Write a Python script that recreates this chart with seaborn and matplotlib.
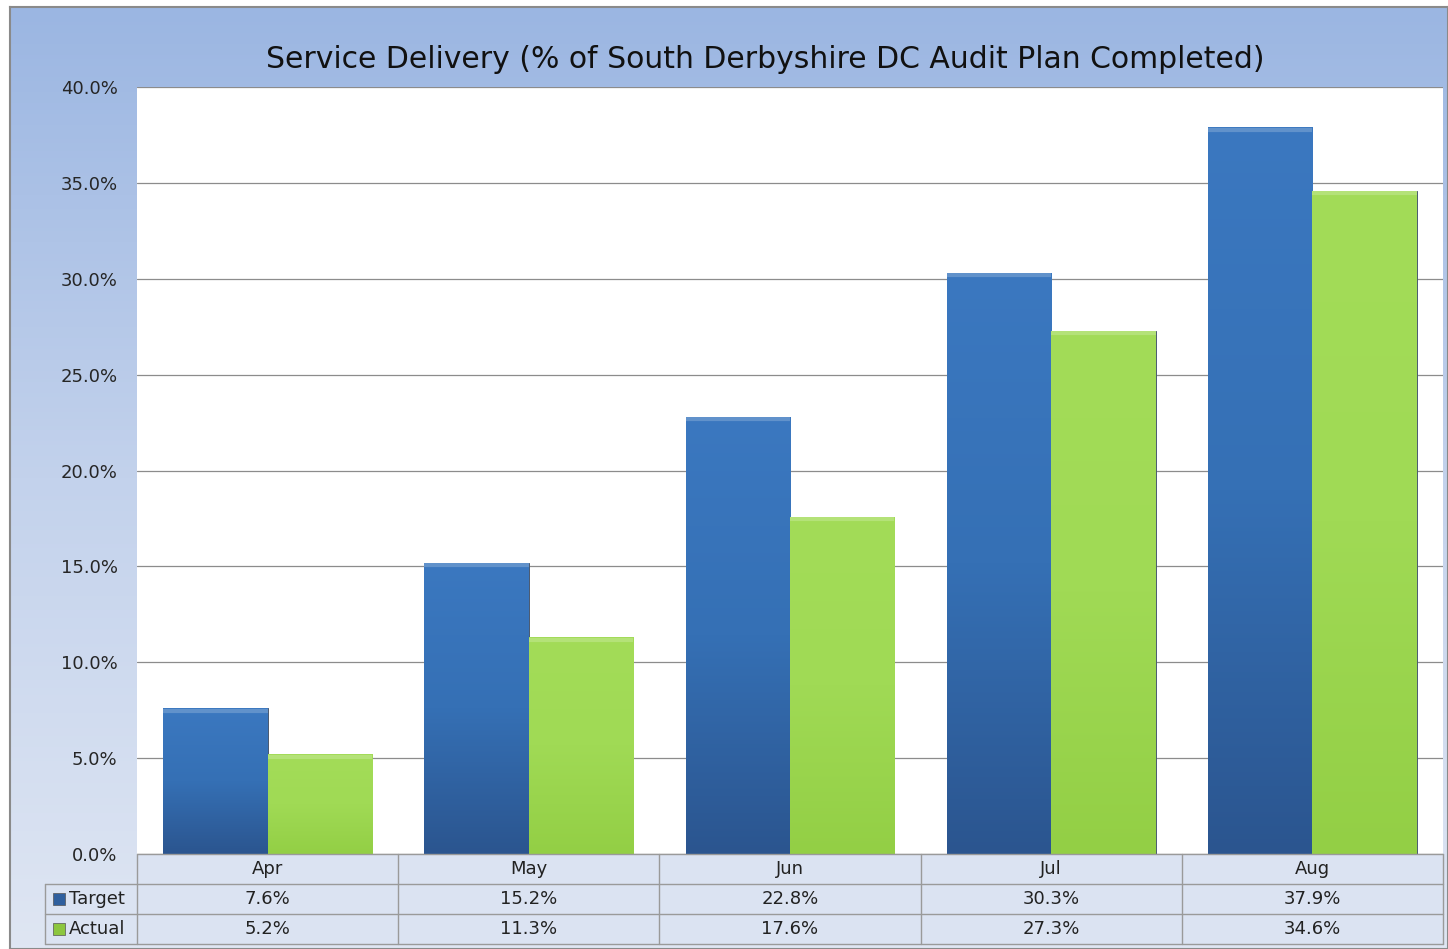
import numpy as np
import pandas as pd
import matplotlib
matplotlib.use('Agg')
import matplotlib.pyplot as plt
import matplotlib.colors as mcolors
import seaborn as sns

# data
months = ['Apr', 'May', 'Jun', 'Jul', 'Aug']
target = [7.6, 15.2, 22.8, 30.3, 37.9]
actual = [5.2, 11.3, 17.6, 27.3, 34.6]
series = ['Target', 'Actual']
yticks = [0, 5, 10, 15, 20, 25, 30, 35, 40]

df = pd.DataFrame({
    'Month': months * 2,
    'Series': ['Target'] * len(months) + ['Actual'] * len(months),
    'Value': target + actual,
})

sns.set_theme(style='white')
plt.rcParams['font.family'] = ['DejaVu Sans']

W, H = 1448, 949
fig = plt.figure(figsize=(W / 100, H / 100), dpi=100)
fig.patch.set_facecolor('white')

# chart area background (gradient)
bg = fig.add_axes([10 / W, 0, 1 - 10 / W, 1 - 7 / H])
grad = np.linspace(0, 1, 256).reshape(-1, 1)
bg_cmap = mcolors.LinearSegmentedColormap.from_list('bg', ['#9bb6e2', '#c3d2ec', '#dfe6f3'])
bg.imshow(grad, cmap=bg_cmap, aspect='auto', extent=[0, 1, 0, 1], origin='upper')
bg.set_xticks([])
bg.set_yticks([])
for s in bg.spines.values():
    s.set_color('#8a8a8a')
    s.set_linewidth(1.5)

# plot area
ax = fig.add_axes([137 / W, 1 - 854 / H, (1443 - 137) / W, (854 - 87) / H])
ax.set_facecolor('white')
pal = {'Target': '#3a73b9', 'Actual': '#9bd652'}
sns.barplot(data=df, x='Month', y='Value', hue='Series', palette=pal,
            width=0.8, legend=False, ax=ax, zorder=3, saturation=1,
            edgecolor='#4a5a70', linewidth=0.7)

ax.set_ylim(0, 40)
ax.set_xlim(-0.5, 4.5)
ax.set_yticks(yticks)
ax.set_yticklabels([f'{v:.1f}%' for v in yticks], fontsize=13)
ax.tick_params(axis='y', length=0, pad=14)
ax.set_xticks([])
ax.set_xlabel('')
ax.set_ylabel('')
ax.yaxis.grid(True, color='#8c8c8c', linewidth=0.9)
ax.set_axisbelow(True)
for s in ax.spines.values():
    s.set_visible(False)

# gradient fill on bars
grads = {
    'Target': mcolors.LinearSegmentedColormap.from_list('t', ['#2b558f', '#3570b5', '#3b78c0']),
    'Actual': mcolors.LinearSegmentedColormap.from_list('a', ['#93cf45', '#a0da55', '#a3dc58']),
}
bars = [p for p in ax.patches]
n = len(months)
for i, p in enumerate(bars):
    name = series[i // n]
    x0, w, h = p.get_x(), p.get_width(), p.get_height()
    im = ax.imshow(grad[::-1], cmap=grads[name], aspect='auto',
                   extent=[x0, x0 + w, 0, h], origin='upper', zorder=3.5)
    im.set_clip_path(p)
    # subtle top bevel highlight
    ax.plot([x0, x0 + w], [h - 0.12, h - 0.12], color='white', alpha=0.2,
            linewidth=3, zorder=4, solid_capstyle='butt')
ax.set_xlim(-0.5, 4.5)
ax.set_ylim(0, 40)

fig.text(765 / W, 1 - 60 / H, 'Service Delivery (% of South Derbyshire DC Audit Plan Completed)',
         ha='center', va='center', fontsize=21.5, color='#111111')

# data table below the plot
tab = fig.add_axes([137 / W, 1 - 944 / H, (1443 - 137) / W, 90 / H])
tab.set_xlim(-0.5, 4.5)
tab.set_ylim(3, 0)
tab.axis('off')
unit = (1443 - 137) / 5
leg_left = -0.5 - (137 - 45) / unit
line_c = '#9a9a9a'
fill_c = '#dbe3f2'

tab.add_patch(plt.Rectangle((-0.5, 0), 5, 1, facecolor=fill_c, edgecolor='none', clip_on=False))
tab.add_patch(plt.Rectangle((leg_left, 1), 4.5 - leg_left, 2, facecolor=fill_c, edgecolor='none', clip_on=False))
tab.plot([-0.5, 4.5], [0, 0], color=line_c, lw=1, clip_on=False)
for r in [1, 2, 3]:
    tab.plot([leg_left, 4.5], [r, r], color=line_c, lw=1, clip_on=False)
tab.plot([leg_left, leg_left], [1, 3], color=line_c, lw=1, clip_on=False)
for k in range(len(months) + 1):
    tab.plot([k - 0.5, k - 0.5], [0, 3], color=line_c, lw=1, clip_on=False)

for k, m in enumerate(months):
    tab.text(k, 0.5, m, ha='center', va='center', fontsize=13, color='#222222')
    tab.text(k, 1.5, f'{target[k]:.1f}%', ha='center', va='center', fontsize=13, color='#222222')
    tab.text(k, 2.5, f'{actual[k]:.1f}%', ha='center', va='center', fontsize=13, color='#222222')

mk_colors = {'Target': '#2f5f9e', 'Actual': '#8cc63f'}
for r, name in enumerate(series):
    tab.plot([leg_left + 0.055], [r + 1.5], marker='s', markersize=8,
             color=mk_colors[name], markeredgecolor='#555555', markeredgewidth=0.5, clip_on=False)
    tab.text(leg_left + 0.09, r + 1.5, name, ha='left', va='center', fontsize=13, color='#222222')

fig.savefig('out.png', dpi=100)
